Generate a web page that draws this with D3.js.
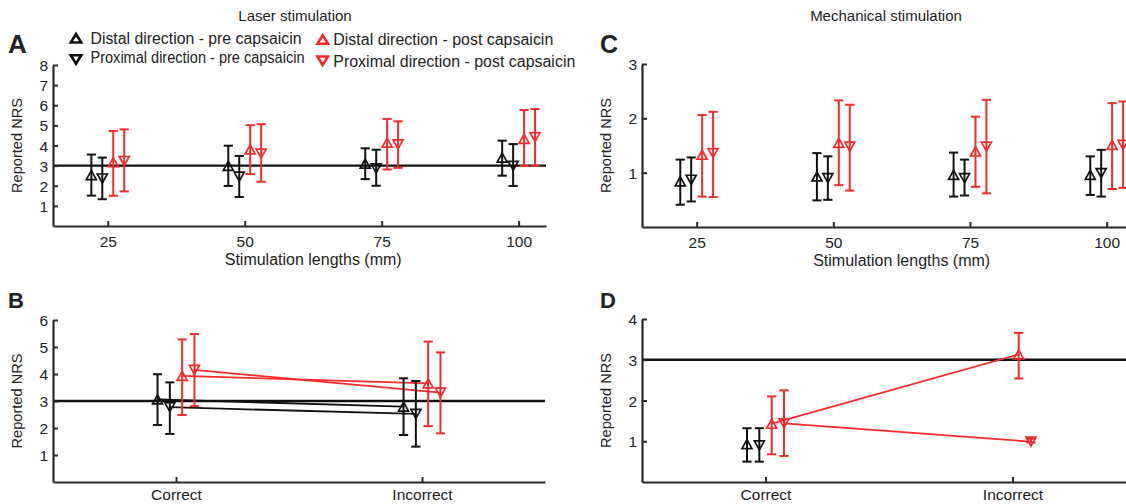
<!DOCTYPE html>
<html><head><meta charset="utf-8">
<script src="https://cdn.jsdelivr.net/npm/d3@7"></script>
<style>
html,body{margin:0;padding:0;background:#fff;}
text{font-family:"Liberation Sans",Arial,Helvetica,sans-serif;fill:#222;}
</style></head>
<body><svg id="chart" width="1126" height="504"></svg>
<script>
// ---------- DATA ----------
const lengths = [25, 50, 75, 100];
const outcomes = ["Correct", "Incorrect"];
const seriesNames = ["Distal direction - pre capsaicin", "Proximal direction - pre capsaicin",
                     "Distal direction - post capsaicin", "Proximal direction - post capsaicin"];

// Panel A: laser stimulation by length
const laserDistalPre     = [2.53, 2.99, 3.10, 3.40];
const laserDistalPreLo   = [1.51, 1.99, 2.33, 2.50];
const laserDistalPreHi   = [3.55, 3.99, 3.86, 4.24];
const laserProxPre       = [2.36, 2.45, 2.86, 2.99];
const laserProxPreLo     = [1.33, 1.44, 2.00, 1.99];
const laserProxPreHi     = [3.40, 3.48, 3.79, 4.07];
const laserDistalPost    = [3.17, 3.81, 4.14, 4.33];
const laserDistalPostLo  = [1.50, 2.58, 2.81, 2.99];
const laserDistalPostHi  = [4.72, 5.01, 5.32, 5.76];
const laserProxPost      = [3.23, 3.60, 4.06, 4.42];
const laserProxPostLo    = [1.72, 2.20, 2.89, 2.99];
const laserProxPostHi    = [4.80, 5.06, 5.20, 5.81];

// Panel C: mechanical stimulation by length
const mechDistalPre      = [0.84, 0.93, 0.96, 0.96];
const mechDistalPreLo    = [0.41, 0.49, 0.56, 0.59];
const mechDistalPreHi    = [1.24, 1.36, 1.37, 1.30];
const mechProxPre        = [0.87, 0.90, 0.90, 0.99];
const mechProxPreLo      = [0.47, 0.50, 0.58, 0.56];
const mechProxPreHi      = [1.28, 1.30, 1.24, 1.42];
const mechDistalPost     = [1.33, 1.55, 1.39, 1.51];
const mechDistalPostLo   = [0.56, 0.77, 0.74, 0.70];
const mechDistalPostHi   = [2.06, 2.33, 2.03, 2.28];
const mechProxPost       = [1.36, 1.48, 1.48, 1.51];
const mechProxPostLo     = [0.55, 0.67, 0.62, 0.72];
const mechProxPostHi     = [2.12, 2.25, 2.34, 2.31];

// Panel B: laser, correct vs incorrect
const laserCDistalPre    = [3.06, 2.79];
const laserCDistalPreLo  = [2.11, 1.74];
const laserCDistalPreHi  = [3.99, 3.84];
const laserCProxPre      = [2.77, 2.52];
const laserCProxPreLo    = [1.78, 1.31];
const laserCProxPreHi    = [3.69, 3.74];
const laserCDistalPost   = [3.93, 3.65];
const laserCDistalPostLo = [2.48, 2.07];
const laserCDistalPostHi = [5.28, 5.20];
const laserCProxPost     = [4.15, 3.31];
const laserCProxPostLo   = [2.81, 1.80];
const laserCProxPostHi   = [5.48, 4.80];

// Panel D: mechanical, correct vs incorrect (no incorrect answers pre capsaicin)
const mechCDistalPre     = [0.93, null];
const mechCDistalPreLo   = [0.50, null];
const mechCDistalPreHi   = [1.32, null];
const mechCProxPre       = [0.90, null];
const mechCProxPreLo     = [0.50, null];
const mechCProxPreHi     = [1.32, null];
const mechCDistalPost    = [1.43, 3.13];
const mechCDistalPostLo  = [0.68, 2.54];
const mechCDistalPostHi  = [2.10, 3.66];
const mechCProxPost      = [1.44, 0.99];
const mechCProxPostLo    = [0.64, 0.97];
const mechCProxPostHi    = [2.25, 1.06];

const threshold = 3;
const yTicksA = [1,2,3,4,5,6,7,8];
const yTicksB = [1,2,3,4,5,6];
const yTicksC = [1,2,3];
const yTicksD = [1,2,3,4];

// ---------- STYLE ----------
const BLACK = "#111", RED = "#f52a2a", AXIS = "#2a2a2a";
const svg = d3.select("#chart");

function triPath(dir, w, h) {
  return dir === "up"
    ? `M0,${-h/2}L${w/2},${h/2}L${-w/2},${h/2}Z`
    : `M0,${h/2}L${w/2},${-h/2}L${-w/2},${-h/2}Z`;
}

function makeSeries(means, los, his, color, dir, offset) {
  return {means, los, his, color, dir, offset};
}

function drawPanel(cfg) {
  const g = svg.append("g");
  const x = cfg.x, y = cfg.y;
  // reference line
  if (cfg.refLine) {
    g.append("line")
      .attr("x1", x.range()[0]).attr("x2", x.range()[1])
      .attr("y1", y(threshold)).attr("y2", y(threshold))
      .attr("stroke", BLACK).attr("stroke-width", 2.4);
  }
  // axes
  const ax = g.append("g").attr("transform", `translate(0,${y.range()[0]})`)
    .call(d3.axisBottom(x).tickValues(cfg.xTickValues).tickFormat(cfg.xFormat)
      .tickSizeInner(-5).tickSizeOuter(0).tickPadding(8));
  const ay = g.append("g").attr("transform", `translate(${x.range()[0]},0)`)
    .call(d3.axisLeft(y).tickValues(cfg.yTicks).tickFormat(d3.format("d"))
      .tickSizeInner(-5).tickSizeOuter(0).tickPadding(5));
  [ax, ay].forEach(a => {
    a.select(".domain").attr("stroke", AXIS).attr("stroke-width", 2.2);
    a.selectAll(".tick line").attr("stroke", AXIS).attr("stroke-width", 2);
    a.selectAll(".tick text").attr("font-size", 15.5).attr("fill", "#222")
      .style("font-family", '"Liberation Sans",Arial,sans-serif');
  });
  ax.selectAll(".tick text").attr("dy", "0").attr("y", cfg.xTickBase);
  ay.selectAll(".tick text").attr("dy", "0.36em");

  // connecting lines
  if (cfg.connect) {
    cfg.series.forEach(s => {
      const pts = s.means.map((m, i) => m == null ? null : [x(cfg.xVals[i] + s.offset), y(m)]).filter(p => p);
      if (pts.length > 1) {
        g.append("path").attr("d", d3.line()(pts)).attr("fill", "none")
          .attr("stroke", s.color).attr("stroke-width", 1.8);
      }
    });
  }
  // error bars + markers
  const cap = 4.6;
  cfg.series.forEach(s => {
    s.means.forEach((m, i) => {
      if (m == null) return;
      const cx = x(cfg.xVals[i] + s.offset);
      const eg = g.append("g").attr("stroke", s.color).attr("stroke-width", 2).attr("fill", "none");
      eg.append("line").attr("x1", cx).attr("x2", cx).attr("y1", y(s.los[i])).attr("y2", y(s.his[i]));
      eg.append("line").attr("x1", cx - cap).attr("x2", cx + cap).attr("y1", y(s.los[i])).attr("y2", y(s.los[i]));
      eg.append("line").attr("x1", cx - cap).attr("x2", cx + cap).attr("y1", y(s.his[i])).attr("y2", y(s.his[i]));
      g.append("path").attr("d", triPath(s.dir, 10, 9))
        .attr("transform", `translate(${cx},${y(m)})`)
        .attr("fill", "none").attr("stroke", s.color).attr("stroke-width", 1.7)
        .attr("stroke-linejoin", "miter");
    });
  });
  // panel letter
  g.append("text").attr("x", cfg.letterX).attr("y", cfg.letterY).text(cfg.letter)
    .attr("font-size", cfg.letterSize).attr("font-weight", "bold").attr("fill", "#111");
  // y label
  const yMid = (y.range()[0] + y.range()[1]) / 2;
  g.append("text").attr("transform", `translate(${x.range()[0] - 31},${yMid}) rotate(-90)`)
    .attr("text-anchor", "middle").attr("font-size", 14.6).text("Reported NRS");
  // x label
  if (cfg.xLabel) {
    g.append("text").attr("x", (x(25) + x(100)) / 2).attr("y", y.range()[0] + 39)
      .attr("text-anchor", "middle").attr("font-size", 16).text(cfg.xLabel);
  }
  if (cfg.title) {
    g.append("text").attr("x", cfg.titleX).attr("y", 21)
      .attr("text-anchor", "middle").attr("font-size", 15).text(cfg.title);
  }
}

const offLen = [-3, -1, 1, 3];
const offCat = [-0.075, -0.025, 0.025, 0.075];

// Panel A
drawPanel({
  x: d3.scaleLinear().domain([15, 105]).range([53, 546]),
  y: d3.scaleLinear().domain([0, 8]).range([226, 65]),
  xVals: lengths, xTickValues: lengths, xFormat: d3.format("d"), yTicks: yTicksA, xTickBase: 21,
  refLine: true, connect: false, letter: "A", letterX: 8, letterY: 53, letterSize: 26,
  xLabel: "Stimulation lengths (mm)", title: "Laser stimulation", titleX: 295,
  series: [
    makeSeries(laserDistalPre, laserDistalPreLo, laserDistalPreHi, BLACK, "up", offLen[0]),
    makeSeries(laserProxPre, laserProxPreLo, laserProxPreHi, BLACK, "down", offLen[1]),
    makeSeries(laserDistalPost, laserDistalPostLo, laserDistalPostHi, RED, "up", offLen[2]),
    makeSeries(laserProxPost, laserProxPostLo, laserProxPostHi, RED, "down", offLen[3])
  ]
});
// Panel C
drawPanel({
  x: d3.scaleLinear().domain([15, 105]).range([642, 1134]),
  y: d3.scaleLinear().domain([0, 3]).range([227, 64]),
  xVals: lengths, xTickValues: lengths, xFormat: d3.format("d"), yTicks: yTicksC, xTickBase: 21,
  refLine: false, connect: false, letter: "C", letterX: 600, letterY: 53, letterSize: 25,
  xLabel: "Stimulation lengths (mm)", title: "Mechanical stimulation", titleX: 886,
  series: [
    makeSeries(mechDistalPre, mechDistalPreLo, mechDistalPreHi, BLACK, "up", offLen[0]),
    makeSeries(mechProxPre, mechProxPreLo, mechProxPreHi, BLACK, "down", offLen[1]),
    makeSeries(mechDistalPost, mechDistalPostLo, mechDistalPostHi, RED, "up", offLen[2]),
    makeSeries(mechProxPost, mechProxPostLo, mechProxPostHi, RED, "down", offLen[3])
  ]
});
// Panel B
drawPanel({
  x: d3.scaleLinear().domain([0.5, 2.5]).range([53, 545]),
  y: d3.scaleLinear().domain([0, 6]).range([482, 320]),
  xVals: [1, 2], xTickValues: [1, 2], xFormat: d => outcomes[d - 1], yTicks: yTicksB, xTickBase: 17.5,
  refLine: true, connect: true, letter: "B", letterX: 8, letterY: 308, letterSize: 22,
  series: [
    makeSeries(laserCDistalPre, laserCDistalPreLo, laserCDistalPreHi, BLACK, "up", offCat[0]),
    makeSeries(laserCProxPre, laserCProxPreLo, laserCProxPreHi, BLACK, "down", offCat[1]),
    makeSeries(laserCDistalPost, laserCDistalPostLo, laserCDistalPostHi, RED, "up", offCat[2]),
    makeSeries(laserCProxPost, laserCProxPostLo, laserCProxPostHi, RED, "down", offCat[3])
  ]
});
// Panel D
drawPanel({
  x: d3.scaleLinear().domain([0.5, 2.5]).range([642, 1136]),
  y: d3.scaleLinear().domain([0, 4]).range([482, 319]),
  xVals: [1, 2], xTickValues: [1, 2], xFormat: d => outcomes[d - 1], yTicks: yTicksD, xTickBase: 17.5,
  refLine: true, connect: true, letter: "D", letterX: 600, letterY: 308, letterSize: 22,
  series: [
    makeSeries(mechCDistalPre, mechCDistalPreLo, mechCDistalPreHi, BLACK, "up", offCat[0]),
    makeSeries(mechCProxPre, mechCProxPreLo, mechCProxPreHi, BLACK, "down", offCat[1]),
    makeSeries(mechCDistalPost, mechCDistalPostLo, mechCDistalPostHi, RED, "up", offCat[2]),
    makeSeries(mechCProxPost, mechCProxPostLo, mechCProxPostHi, RED, "down", offCat[3])
  ]
});

// Legend
const legendItems = [
  {name: seriesNames[0], color: BLACK, dir: "up",   tx: 76,    ty: 38.3, lx: 90.5, ly: 43.5, len: 211},
  {name: seriesNames[1], color: BLACK, dir: "down", tx: 76,    ty: 59.5, lx: 90.5, ly: 63.3, len: 214},
  {name: seriesNames[2], color: RED,   dir: "up",   tx: 322.7, ty: 39.5, lx: 333.3, ly: 45.3, len: 220},
  {name: seriesNames[3], color: RED,   dir: "down", tx: 322.7, ty: 60.7, lx: 333.3, ly: 66.7, len: 242}
];
const lg = svg.append("g");
legendItems.forEach(d => {
  lg.append("path").attr("d", triPath(d.dir, 10.5, 8.5))
    .attr("transform", `translate(${d.tx},${d.ty})`)
    .attr("fill", "none").attr("stroke", d.color).attr("stroke-width", 2.6);
  lg.append("text").attr("x", d.lx).attr("y", d.ly).attr("font-size", 16)
    .attr("textLength", d.len).attr("lengthAdjust", "spacingAndGlyphs").text(d.name);
});
</script></body></html>
